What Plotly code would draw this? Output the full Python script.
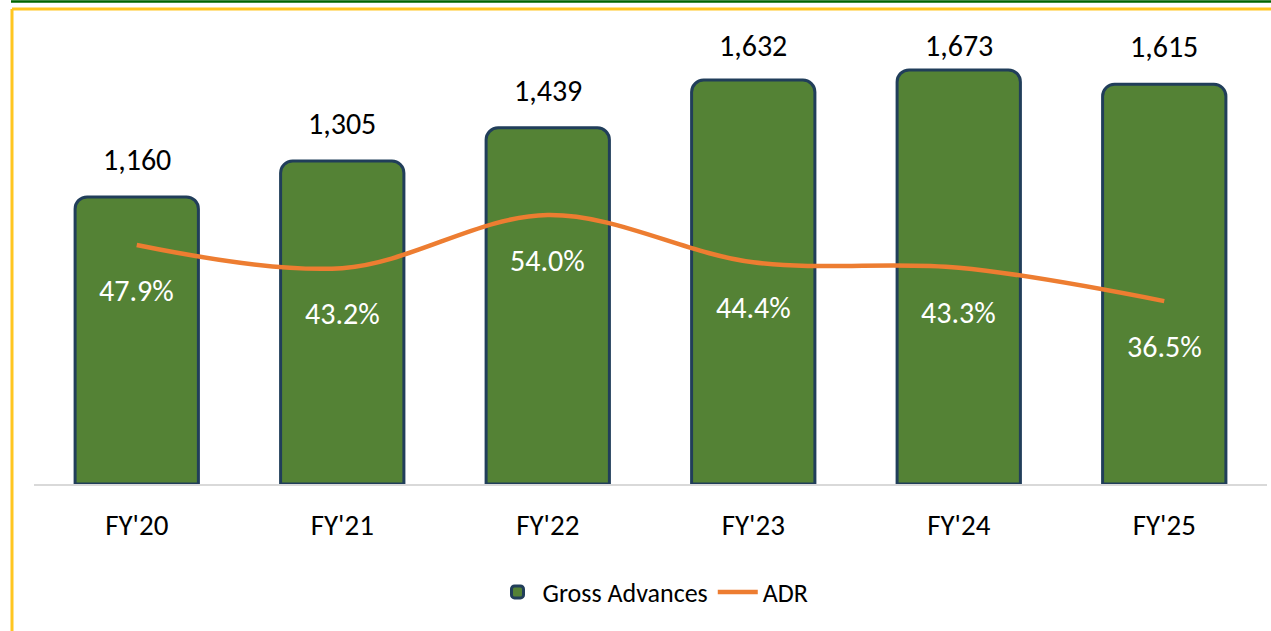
import plotly.graph_objects as go

categories = ["FY'20", "FY'21", "FY'22", "FY'23", "FY'24", "FY'25"]
gross_advances = [1160, 1305, 1439, 1632, 1673, 1615]
adr = [47.9, 43.2, 54.0, 44.4, 43.3, 36.5]

FONT = "Carlito, Calibri, Lato, sans-serif"
W, H = 1271, 631
ML, MR, MT, MB = 34, 4, 10, 147
PW, PH = W - ML - MR, H - MT - MB
YMAX = 1915


def px_x(p):
    return (p - ML) / PW


def px_y(p):
    return (H - MB - p) / PH


fig = go.Figure()
fig.add_trace(go.Bar(
    x=categories, y=gross_advances, name="Gross Advances",
    marker=dict(color="#548235", line=dict(color="#213E5A", width=3), cornerradius=12),
    width=0.6,
))
fig.add_trace(go.Scatter(
    x=categories, y=adr, name="ADR", yaxis="y2", mode="lines",
    line=dict(color="#ED7D31", width=4.5, shape="spline", smoothing=1.0),
))

# value labels above bars, kept inside the chart area near the top (as in the original)
for c, v in zip(categories, gross_advances):
    top_px = (H - MB) - v * PH / YMAX
    center_px = top_px - 36
    shift = 17 - max(0.0, 47 - center_px)
    fig.add_annotation(x=c, y=v, xref="x", yref="y", text=f"{v:,}",
                       showarrow=False, yanchor="bottom", yshift=shift,
                       font=dict(family=FONT, size=30, color="#000000"))

for c, v in zip(categories, adr):
    fig.add_annotation(x=c, y=v, xref="x", yref="y2", text=f"{v:.1f}%",
                       showarrow=False, yshift=-45,
                       font=dict(family=FONT, size=30, color="#FFFFFF"))

fig.update_layout(
    width=W, height=H,
    margin=dict(l=ML, r=MR, t=MT, b=MB),
    paper_bgcolor="#FFFFFF", plot_bgcolor="#FFFFFF",
    font=dict(family=FONT, size=26, color="#000000"),
    bargap=0.4,
    xaxis=dict(showgrid=False, showline=True, linecolor="#D9D9D9", linewidth=2,
               ticks="outside", ticklen=14, tickcolor="rgba(0,0,0,0)",
               tickfont=dict(family=FONT, size=29, color="#000000"), fixedrange=True),
    yaxis=dict(range=[0, YMAX], visible=False, showgrid=False, zeroline=False),
    yaxis2=dict(range=[-0.7, 95.7], overlaying="y", visible=False,
                showgrid=False, zeroline=False),
    legend=dict(orientation="h", x=px_x(653), xanchor="center", y=px_y(592), yanchor="middle",
                font=dict(family=FONT, size=26, color="#000000"), itemwidth=40,
                bgcolor="rgba(0,0,0,0)"),
    showlegend=True,
)

# frame lines around the chart
fig.add_shape(type="line", xref="paper", yref="paper",
              x0=px_x(11), x1=px_x(W), y0=px_y(1.5), y1=px_y(1.5),
              line=dict(color="#006400", width=2.5))
fig.add_shape(type="line", xref="paper", yref="paper",
              x0=px_x(12), x1=px_x(W), y0=px_y(9), y1=px_y(9),
              line=dict(color="#FFC620", width=3))
fig.add_shape(type="line", xref="paper", yref="paper",
              x0=px_x(12), x1=px_x(12), y0=px_y(9), y1=px_y(H),
              line=dict(color="#FFC620", width=3))

fig.write_html("out.html", config={"displayModeBar": False},
               post_script="document.body.style.margin='0';document.body.style.overflow='hidden';")
